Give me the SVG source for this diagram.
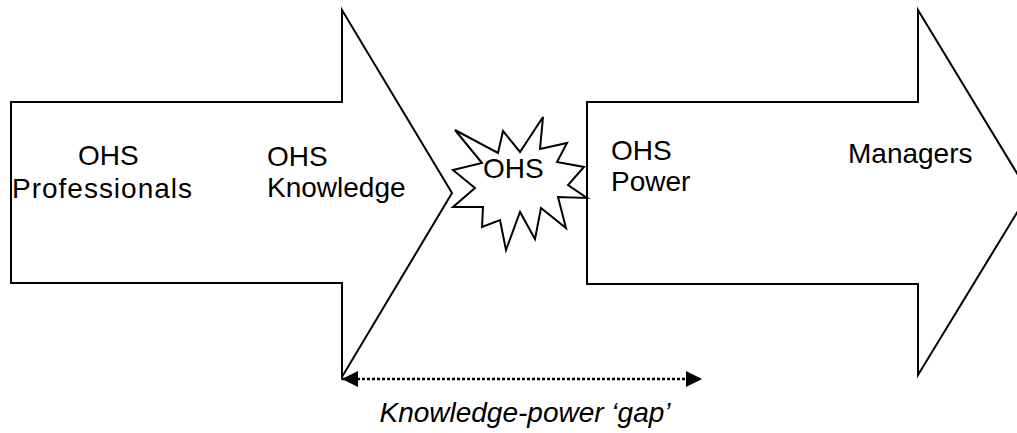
<svg xmlns="http://www.w3.org/2000/svg" width="1017" height="433" viewBox="0 0 1017 433">
<style>
.shape{fill:#fff;stroke:#000;stroke-width:2;stroke-linejoin:miter}
.t{font-family:"Liberation Sans",Arial,sans-serif;font-size:28px;fill:#000}
.it{font-style:italic}
.dots{stroke:#000;stroke-width:2.5;stroke-dasharray:3 2;fill:none}
</style>
<defs>
<marker id="ah" markerWidth="16" markerHeight="16" refX="16" refY="8" orient="auto-start-reverse" markerUnits="userSpaceOnUse">
<path d="M0,0 L16,8 L0,16 Z" fill="#000"/>
</marker>
</defs>
<rect width="1017" height="433" fill="#fff"/>
<g id="left-arrow">
<polygon class="shape" points="11,102 342,102 342,10 452,193 342,377 342,283 11,283"/>
<text class="t" x="78" y="165">OHS</text>
<text class="t" x="12" y="198" textLength="180" lengthAdjust="spacing">Professionals</text>
<text class="t" x="267" y="166">OHS</text>
<text class="t" x="267" y="197">Knowledge</text>
</g>
<g id="right-arrow">
<polygon class="shape" points="587,102 918,102 918,10 1029,193 918,375 918,284 587,284"/>
<text class="t" x="611" y="160">OHS</text>
<text class="t" x="611" y="191">Power</text>
<text class="t" x="848" y="163">Managers</text>
</g>
<g id="burst">
<polygon class="shape" points="455,130 498,153 503,131 520,152 543,117 540,149 567,143 557,162 584,167 568,185 587,198 558,197 566,228 541,208 535,239 520,212 506,250 500,220 482,227 483,207 453,207 475,188 453,170 482,163"/>
<text class="t" x="483" y="178">OHS</text>
</g>
<g id="connectors">
<line class="dots" x1="342" y1="379" x2="702" y2="379" marker-start="url(#ah)" marker-end="url(#ah)"/>
</g>
<g id="gap-label">
<text class="t it" x="525" y="422" text-anchor="middle">Knowledge-power ‘gap’</text>
</g>
</svg>
